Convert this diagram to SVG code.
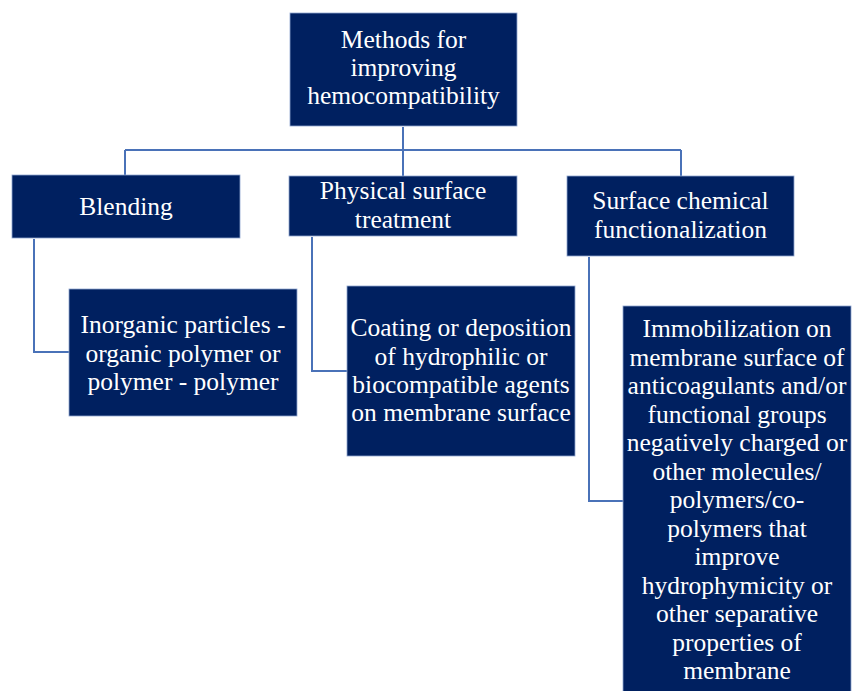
<svg xmlns="http://www.w3.org/2000/svg" width="852" height="691" viewBox="0 0 852 691">
<style>
.box{fill:#002060;stroke:#8fa6d0;stroke-width:0.8}
.t{fill:#ffffff;font-family:"Liberation Serif","Times New Roman",serif;font-size:25.5px;text-anchor:middle}
.c{fill:none;stroke:#4a72b8;stroke-width:2}
</style>
<rect width="852" height="691" fill="#ffffff"/>
<g id="connectors">
<path class="c" d="M403 127V150M125 150H681M125 150V175M403 150V176M681 150V176"/>
<path class="c" d="M34 239V352H69"/>
<path class="c" d="M312 237V371H347"/>
<path class="c" d="M589 257V501H623"/>
</g>
<g id="root">
<rect class="box" x="290" y="13" width="227" height="113"/>
<text class="t" x="403.5" y="48">Methods for</text>
<text class="t" x="403.5" y="76">improving</text>
<text class="t" x="403.5" y="104">hemocompatibility</text>
</g>
<g id="blending">
<rect class="box" x="12" y="175" width="228" height="63"/>
<text class="t" x="126" y="215">Blending</text>
</g>
<g id="physical">
<rect class="box" x="289" y="176" width="228" height="60"/>
<text class="t" x="403" y="199">Physical surface</text>
<text class="t" x="403" y="228">treatment</text>
</g>
<g id="chemical">
<rect class="box" x="567" y="176" width="227" height="80"/>
<text class="t" x="680.5" y="209">Surface chemical</text>
<text class="t" x="680.5" y="238">functionalization</text>
</g>
<g id="inorganic">
<rect class="box" x="69" y="289" width="228" height="127"/>
<text class="t" x="183" y="333">Inorganic particles -</text>
<text class="t" x="183" y="362">organic polymer or</text>
<text class="t" x="183" y="390">polymer - polymer</text>
</g>
<g id="coating">
<rect class="box" x="347" y="286" width="228" height="170"/>
<text class="t" x="461" y="336">Coating or deposition</text>
<text class="t" x="461" y="365">of hydrophilic or</text>
<text class="t" x="461" y="393">biocompatible agents</text>
<text class="t" x="461" y="421">on membrane surface</text>
</g>
<g id="immobilization">
<rect class="box" x="623" y="306" width="228" height="390"/>
<text class="t" x="737" y="337">Immobilization on</text>
<text class="t" x="737" y="366">membrane surface of</text>
<text class="t" x="737" y="394">anticoagulants and/or</text>
<text class="t" x="737" y="423">functional groups</text>
<text class="t" x="737" y="451">negatively charged or</text>
<text class="t" x="737" y="480">other molecules/</text>
<text class="t" x="737" y="508">polymers/co-</text>
<text class="t" x="737" y="537">polymers that</text>
<text class="t" x="737" y="565">improve</text>
<text class="t" x="737" y="594">hydrophymicity or</text>
<text class="t" x="737" y="622">other separative</text>
<text class="t" x="737" y="651">properties of</text>
<text class="t" x="737" y="679">membrane</text>
</g>
</svg>
